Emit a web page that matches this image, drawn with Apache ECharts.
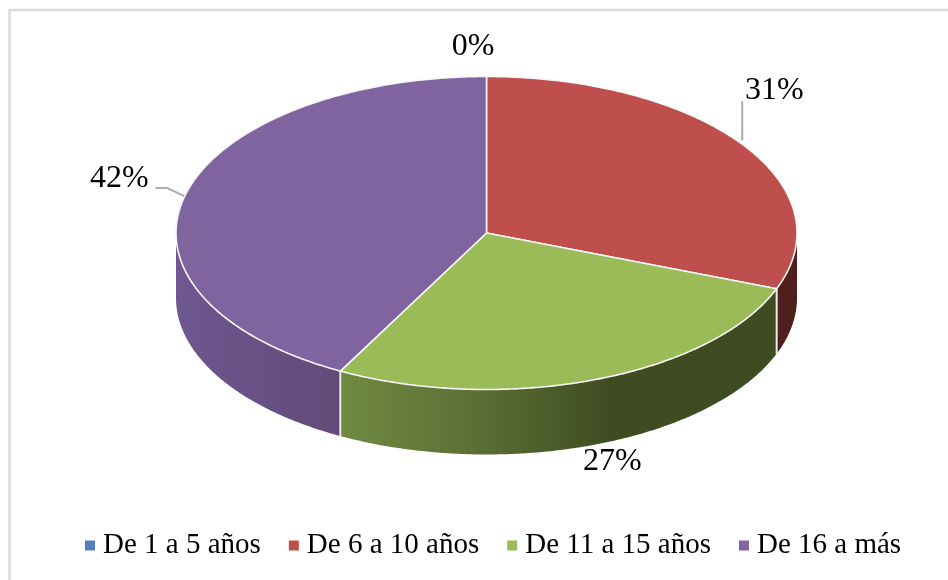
<!DOCTYPE html>
<html><head><meta charset="utf-8">
<style>html,body{margin:0;padding:0;background:#fff}#c{width:948px;height:580px}</style>
<script src="https://cdn.jsdelivr.net/npm/echarts@6/dist/echarts.min.js"></script>
</head><body><div id="c"></div>
<script>
const categories = ['De 1 a 5 años', 'De 6 a 10 años', 'De 11 a 15 años', 'De 16 a más'];
const shareValues = [0, 30.8, 27, 42.2];
const topColors = ['#4f81bd', '#be4f4c', '#9bbb59', '#8064a0'];

// layout of the tilted disc
const CX = 486.5, CY = 233, RX = 310.5, RY = 156.5, DEPTH = 65;
const FONT = '"Liberation Serif","Times New Roman",serif';
// label centre offset from the rim point at the slice's mid angle
const labelOffsets = [[-13.5, -30], [32, -54], [17, 82], [-66, -16]];
const leaderBends = [null, [[0, -4], [0, -43]], null, [[-1, 1], [-18, -7], [-30, -7]]];
const sideGradients = [
  null,
  [[0, '#4f1f1e'], [1, '#4f1f1e']],
  [[0, '#708a41'], [0.3, '#5c7036'], [0.62, '#3f4c22'], [1, '#3f4c22']],
  [[0, '#6f5790'], [1, '#624a78']]
];

const total = shareValues.reduce((a, b) => a + b, 0);
const pt = (deg, dy) => {
  const r = deg * Math.PI / 180;
  return [CX + RX * Math.sin(r), CY - RY * Math.cos(r) + (dy || 0)];
};
const arc = (from, to, dy) => {
  const out = [];
  const n = Math.max(2, Math.ceil(Math.abs(to - from) * 2));
  for (let i = 0; i <= n; i++) out.push(pt(from + (to - from) * i / n, dy));
  return out;
};

function sliceRenderer(idx) {
  let before = 0;
  for (let i = 0; i < idx; i++) before += shareValues[i];
  return function (params, api) {
    const v = api.value(0);
    const a0 = before / total * 360, a1 = (before + v) / total * 360, mid = (a0 + a1) / 2;
    const children = [];
    if (v > 0) {
      // outer wall: only the front half of the rim (90..270 deg) can be seen
      const s0 = Math.max(a0, 90), s1 = Math.min(a1, 270);
      if (s1 > s0) {
        const upper = arc(s0, s1, 0), lower = arc(s1, s0, DEPTH);
        const stops = sideGradients[idx];
        // gradients run left to right across the wall
        children.push({
          type: 'polygon', z2: 1, shape: { points: upper.concat(lower) },
          style: { fill: new echarts.graphic.LinearGradient(0, 0, 1, 0, stops.map(s => ({ offset: s[0], color: s[1] }))) }
        });
        // pale seam on the wall at a slice boundary
        [a0, a1].forEach(a => {
          if (a > 90 && a < 270) {
            children.push({ type: 'line', z2: 2, shape: { x1: pt(a)[0], y1: pt(a)[1], x2: pt(a)[0], y2: pt(a, DEPTH)[1] },
              style: { stroke: '#ececec', lineWidth: 1.6 } });
          }
        });
      }
      children.push({
        type: 'polygon', z2: 3,
        shape: { points: [[CX, CY]].concat(arc(a0, a1, 0)) },
        style: { fill: topColors[idx], stroke: '#f6f6f6', lineWidth: 1.6, lineJoin: 'round' }
      });
    }
    const rim = pt(mid);
    const bends = leaderBends[idx];
    if (bends) {
      children.push({ type: 'polyline', z2: 4,
        shape: { points: bends.map(b => [rim[0] + b[0], rim[1] + b[1]]), smooth: 0 },
        style: { stroke: '#adadad', lineWidth: 2, fill: null } });
    }
    const off = labelOffsets[idx];
    children.push({ type: 'text', z2: 5, x: rim[0] + off[0], y: rim[1] + off[1],
      style: { text: Math.round(v) + '%', font: '32px ' + FONT, fill: '#000', align: 'center', verticalAlign: 'middle' } });
    return { type: 'group', children };
  };
}

const chart = echarts.init(document.getElementById('c'), null, { renderer: 'canvas' });
chart.setOption({
  animation: false,
  backgroundColor: '#fff',
  color: topColors,
  graphic: [{ type: 'rect', silent: true, z: -1,
    shape: { x: 9.5, y: 10, width: 960, height: 600 },
    style: { fill: 'none', stroke: '#dcdcdc', lineWidth: 2.5 } }],
  legend: {
    show: true, top: 526, left: 80,
    data: categories, icon: 'rect', itemWidth: 10, itemHeight: 10, itemGap: 28,
    textStyle: { fontFamily: FONT, fontSize: 29, color: '#000', padding: [0, 0, 0, 3] }
  },
  series: categories.map((name, i) => ({
    type: 'custom', name, coordinateSystem: 'none',
    renderItem: sliceRenderer(i),
    data: [[shareValues[i]]],
    itemStyle: { color: topColors[i] },
    silent: true, clip: false
  }))
});
</script></body></html>
